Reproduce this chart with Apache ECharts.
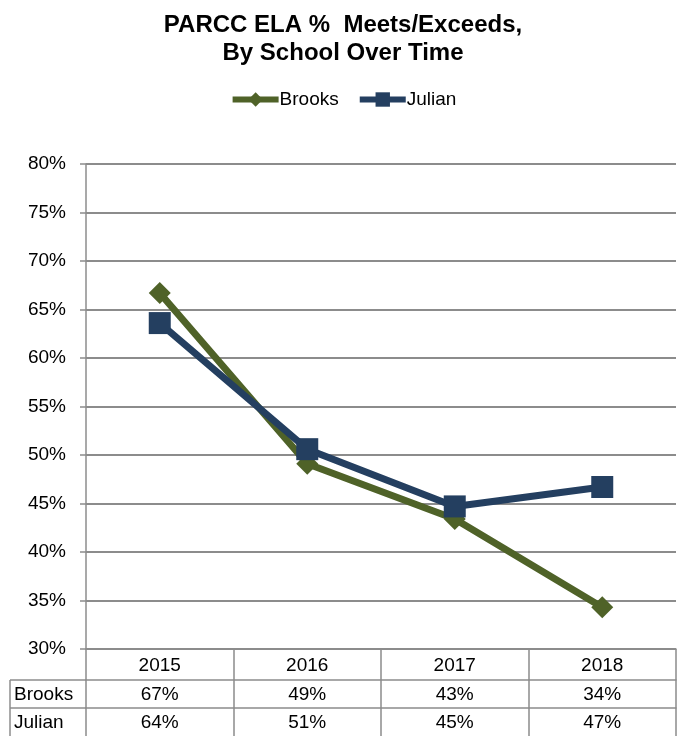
<!DOCTYPE html>
<html><head><meta charset="utf-8">
<script src="https://cdn.jsdelivr.net/npm/echarts@6/dist/echarts.min.js"></script>
<style>html,body{margin:0;padding:0;background:#fff}#c{width:686px;height:736px}</style>
</head><body><div id="c"></div>
<script>
const years = ['2015','2016','2017','2018'];
const brooks = [66.7, 49.1, 43.4, 34.3];
const julian = [63.6, 50.6, 44.7, 46.7];
const yTicks = {min: 30, max: 80, step: 5};

const FONT = 'Liberation Sans, Arial, sans-serif';
const GRAY = '#8c8c8c';
const FS = 19;
const chart = echarts.init(document.getElementById('c'));
const pct = v => Math.round(v) + '%';
const tableAxis = (values, offset, margin) => ({
  type: 'category', data: years, position: 'bottom', offset: offset,
  axisLine: {show: true, lineStyle: {color: GRAY, width: 1.5}},
  axisTick: {show: false},
  axisLabel: {margin: margin, color: '#000', fontSize: FS, fontFamily: FONT,
    formatter: (v, i) => pct(values[i])}
});
chart.setOption({
  animation: false,
  title: {text: 'PARCC ELA %  Meets/Exceeds,\nBy School Over Time', left: 'center', top: 6,
    textStyle: {fontSize: 24, fontWeight: 'bold', fontFamily: FONT, color: '#000', lineHeight: 28}},
  legend: {top: 85, left: 'center', itemWidth: 46, itemHeight: 18, itemGap: 18,
    lineStyle: {width: 6},
    textStyle: {fontSize: FS, fontFamily: FONT, color: '#000', padding: [0,0,0,-4]}},
  grid: {left: 86, right: 10, top: 164, bottom: 87, containLabel: false},
  xAxis: [
    {type: 'category', data: years, position: 'bottom',
     axisLine: {show: true, lineStyle: {color: GRAY, width: 1.5}},
     axisTick: {show: true, length: 87, alignWithLabel: false, lineStyle: {color: GRAY, width: 1.5}},
     axisLabel: {margin: 7, color: '#000', fontSize: FS, fontFamily: FONT}},
    tableAxis(brooks, 31, 5),
    tableAxis(julian, 59, 5)
  ],
  yAxis: {type: 'value', min: yTicks.min, max: yTicks.max, interval: yTicks.step,
    axisLine: {show: true, lineStyle: {color: GRAY, width: 1.5}},
    axisTick: {show: true, length: 6, lineStyle: {color: GRAY, width: 1.5}},
    splitLine: {lineStyle: {color: GRAY, width: 1.8}},
    axisLabel: {formatter: v => v + '%', color: '#000', fontSize: FS, fontFamily: FONT, margin: 20}},
  series: [
    {name: 'Brooks', type: 'line', data: brooks, symbol: 'diamond', symbolSize: 22,
     lineStyle: {color: '#4F6228', width: 7}, itemStyle: {color: '#4F6228'}},
    {name: 'Julian', type: 'line', data: julian, symbol: 'rect', symbolSize: 22,
     lineStyle: {color: '#243F60', width: 7}, itemStyle: {color: '#243F60'}}
  ],
  graphic: [
    {type: 'line', shape: {x1: 10, y1: 680, x2: 86, y2: 680}, style: {stroke: GRAY, lineWidth: 1.5}},
    {type: 'line', shape: {x1: 10, y1: 708, x2: 86, y2: 708}, style: {stroke: GRAY, lineWidth: 1.5}},
    {type: 'line', shape: {x1: 10, y1: 680, x2: 10, y2: 736}, style: {stroke: GRAY, lineWidth: 1.5}},
    {type: 'text', left: 14, top: 685, style: {text: 'Brooks', font: FS + 'px ' + FONT, fill: '#000'}},
    {type: 'text', left: 14, top: 713, style: {text: 'Julian', font: FS + 'px ' + FONT, fill: '#000'}}
  ]
});
</script></body></html>
